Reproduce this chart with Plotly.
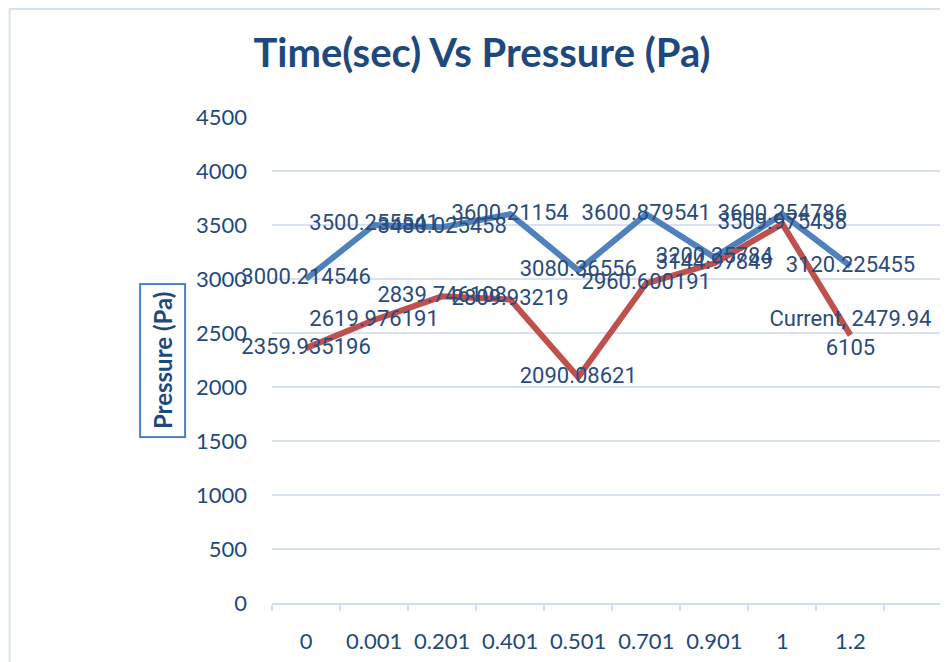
import plotly.graph_objects as go

# ---- data ----
time_labels = ["0", "0.001", "0.201", "0.401", "0.501", "0.701", "0.901", "1", "1.2"]
previous_pa = [3000.214546, 3500.255541, 3480.025458, 3600.21154, 3080.36556,
               3600.879541, 3200.25784, 3600.254786, 3120.225455]
current_pa = [2359.935196, 2619.976191, 2839.746108, 2809.93219, 2090.08621,
              2960.600191, 3144.97849, 3509.975438, 2479.946105]
y_ticks = [0, 500, 1000, 1500, 2000, 2500, 3000, 3500, 4000, 4500]

title_text = "Time(sec) Vs Pressure (Pa)"
y_title = "Pressure (Pa)"

BLUE = "#4f81bd"
RED = "#c0504d"
TXT = "#1f497d"
LBL = "#2a4b7c"
GRID = "#d9e2f3"
UIFONT = "Lato"

# page has an 8px body margin; work in page pixels and convert
OFF = 8
W, H = 948 - OFF, 662 - OFF
PL, PT, PB = 271.5, 117, 603          # plot area in page pixels
L, T = PL - OFF, PT - OFF
B = H - (PB - OFF)
R = 0
pw = W - L - R
ph = H - T - B


def px_x(px):
    return (px - OFF - L) / pw


def px_y(py):
    return (H - B - (py - OFF)) / ph


prev_text = [str(v) for v in previous_pa]
cur_text = [str(v) for v in current_pa]
last = "Current, " + cur_text[-1]
cur_text[-1] = last[:16] + "<br>" + last[16:]

fig = go.Figure()
fig.add_trace(go.Scatter(x=time_labels, y=previous_pa, mode="lines", name="Previous",
                         line=dict(color=BLUE, width=6), hoverinfo="skip"))
fig.add_trace(go.Scatter(x=time_labels, y=current_pa, mode="lines", name="Current",
                         line=dict(color=RED, width=6), hoverinfo="skip"))
fig.add_trace(go.Scatter(x=time_labels, y=previous_pa, mode="text", text=prev_text,
                         textposition="middle center", cliponaxis=False, showlegend=False,
                         textfont=dict(family="Roboto", size=22, color=LBL)))
fig.add_trace(go.Scatter(x=time_labels, y=current_pa, mode="text", text=cur_text,
                         textposition="middle center", cliponaxis=False, showlegend=False,
                         textfont=dict(family="Roboto", size=22, color=LBL)))

fig.update_layout(
    width=W, height=H,
    margin=dict(l=L, r=R, t=T, b=B, pad=0),
    paper_bgcolor="white", plot_bgcolor="white",
    showlegend=False,
    title=dict(text="<b>" + title_text + "</b>", xref="container", yref="container",
               x=(482 - OFF) / W, xanchor="center", y=1 - (53 - OFF) / H, yanchor="middle",
               font=dict(family=UIFONT, size=40, color=TXT)),
    xaxis=dict(type="category", categoryorder="array", categoryarray=time_labels,
               range=[-0.5, -0.5 + (948 - PL) / 68.1],
               showgrid=False, zeroline=False,
               showline=True, linecolor="#d0dcef", linewidth=2,
               ticks="outside", ticklen=6, tickwidth=2, tickcolor="#d0dcef",
               tickson="boundaries", ticklabelstandoff=18,
               tickfont=dict(family=UIFONT, size=22, color=TXT)),
    yaxis=dict(range=[0, 4500], tickvals=y_ticks, showgrid=True, gridcolor=GRID,
               gridwidth=2, zeroline=False, showline=False, ticks="",
               ticklabelstandoff=24,
               tickfont=dict(family=UIFONT, size=22, color=TXT)),
    shapes=[dict(type="rect", xref="paper", yref="paper", layer="below",
                 x0=px_x(OFF + 1), x1=px_x(948 + 20), y0=px_y(662 + 20), y1=px_y(OFF + 1),
                 line=dict(color="#d6e2f3", width=2), fillcolor="rgba(0,0,0,0)")],
    annotations=[dict(text="<b>" + y_title + "</b>", xref="paper", yref="paper",
                      x=px_x(161.5), y=px_y(361), xanchor="center", yanchor="middle",
                      textangle=-90, showarrow=False,
                      font=dict(family=UIFONT, size=24, color=TXT),
                      bordercolor=BLUE, borderwidth=2, borderpad=7)],
)

fig.write_html("out.html")
